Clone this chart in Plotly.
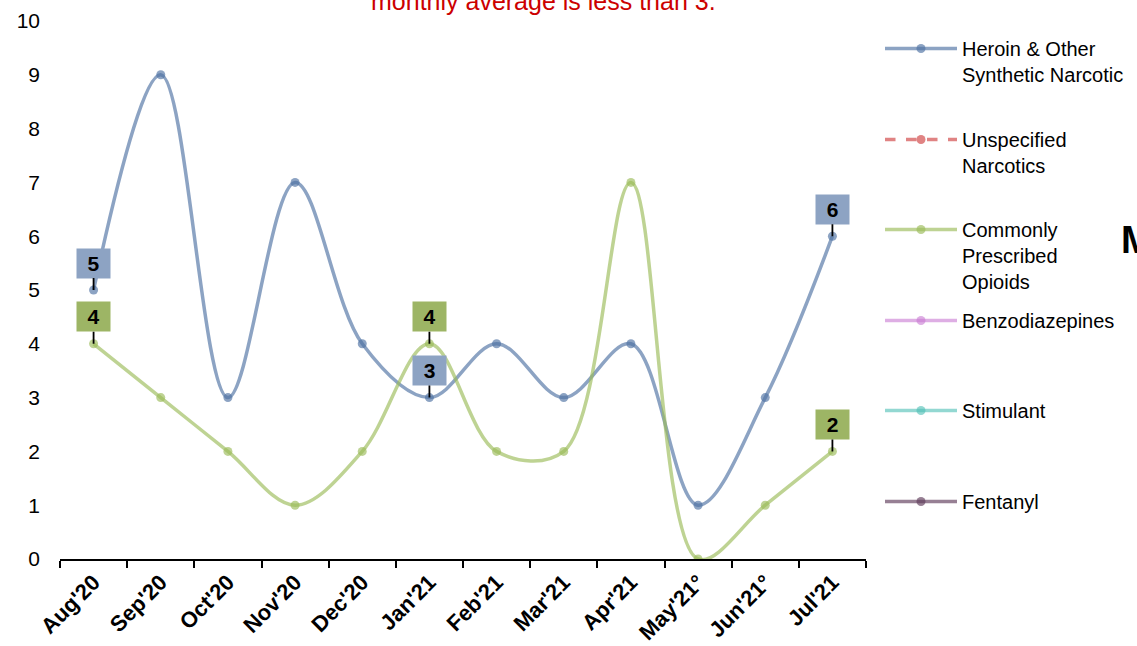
import plotly.graph_objects as go

months = ["Aug'20", "Sep'20", "Oct'20", "Nov'20", "Dec'20", "Jan'21",
          "Feb'21", "Mar'21", "Apr'21", "May'21°", "Jun'21°", "Jul'21"]
heroin = [5, 9, 3, 7, 4, 3, 4, 3, 4, 1, 3, 6]
unspecified = [None] * 12
prescribed = [4, 3, 2, 1, 2, 4, 2, 2, 7, 0, 1, 2]
benzo = [None] * 12
stimulant = [None] * 12
fentanyl = [None] * 12

label_months = ["Aug'20", "Jan'21", "Jul'21"]

series = [
    ("Heroin &amp; Other<br>Synthetic Narcotic", heroin, "rgba(79,114,163,0.65)", "solid"),
    ("Unspecified<br>Narcotics", unspecified, "rgba(214,90,90,0.75)", "dash"),
    ("Commonly<br>Prescribed<br>Opioids", prescribed, "rgba(155,187,89,0.65)", "solid"),
    ("Benzodiazepines", benzo, "rgba(200,120,210,0.6)", "solid"),
    ("Stimulant", stimulant, "rgba(75,190,180,0.6)", "solid"),
    ("Fentanyl", fentanyl, "rgba(95,60,90,0.65)", "solid"),
]

W, H = 1137, 646
L, T = 60, 21
R = W - 866
B = H - 559
ph = H - T - B
pw = W - L - R


def px_x(page_x):
    return (page_x - L) / pw


def px_y(page_y):
    return (H - B - page_y) / ph


FONT = "Liberation Sans, Arial"

fig = go.Figure()
legend_tops = [49, 140, 230, 321, 411, 502]
for i, (name, vals, col, dash) in enumerate(series):
    lg = "legend" if i == 0 else f"legend{i+1}"
    fig.add_trace(go.Scatter(
        x=months, y=vals, name=name, mode="lines+markers",
        line=dict(color=col, width=3.5, shape="spline", smoothing=1.0, dash=dash),
        marker=dict(color=col, size=9),
        legend=lg, connectgaps=False, showlegend=True,
    ))

legend_layout = {}
for i, top in enumerate(legend_tops):
    key = "legend" if i == 0 else f"legend{i+1}"
    legend_layout[key] = dict(
        x=px_x(880), xanchor="left",
        y=px_y(top - 20), yanchor="top",
        valign="top", bgcolor="rgba(0,0,0,0)",
        font=dict(family=FONT, size=20, color="black"),
        itemwidth=72,
    )

annotations = []
box_specs = [(heroin, "#8DA3C3"), (prescribed, "#9DB565")]
for vals, bcol in box_specs:
    for m in label_months:
        v = vals[months.index(m)]
        annotations.append(dict(
            x=m, y=v, xref="x", yref="y", text=f"<b>{v}</b>",
            showarrow=True, arrowhead=0, arrowwidth=1.8, arrowcolor="black",
            ax=0, ay=-27, bgcolor=bcol, borderpad=3, width=27, height=23,
            font=dict(family=FONT, size=21, color="black"),
        ))

annotations.append(dict(
    x=px_x(543), y=px_y(17), xref="paper", yref="paper", xanchor="center", yanchor="bottom",
    text="monthly average is less than 3.", showarrow=False,
    font=dict(family=FONT, size=25, color="#CC0000"),
))
annotations.append(dict(
    x=px_x(1119), y=px_y(240), xref="paper", yref="paper",
    xanchor="left", yanchor="middle", text="<b>M</b>", showarrow=False,
    font=dict(family=FONT, size=38, color="black"),
))

fig.update_layout(
    width=W, height=H,
    margin=dict(l=L, r=R, t=T, b=B, autoexpand=False),
    plot_bgcolor="white", paper_bgcolor="white",
    showlegend=True,
    font=dict(family=FONT, size=20, color="black"),
    annotations=annotations,
    **legend_layout,
)
fig.update_xaxes(
    type="category", categoryorder="array", categoryarray=months,
    showline=True, linecolor="black", linewidth=1.5, automargin=False,
    ticks="outside", tickson="boundaries", ticklen=7, tickcolor="black", tickwidth=1.5,
    tickangle=-45, tickfont=dict(family=FONT, size=22, color="black", weight="bold"),
    showgrid=False, zeroline=False, range=[-0.5, 11.5],
)
fig.update_yaxes(
    range=[0, 10], dtick=1, showgrid=False, zeroline=False, showline=False,
    ticks="", ticklabelstandoff=19, automargin=False,
    tickfont=dict(family=FONT, size=21, color="black"),
)

fig.write_html(
    "out.html",
    config={"displayModeBar": False},
    post_script="document.body.style.margin='0';document.body.style.overflow='hidden';",
)
